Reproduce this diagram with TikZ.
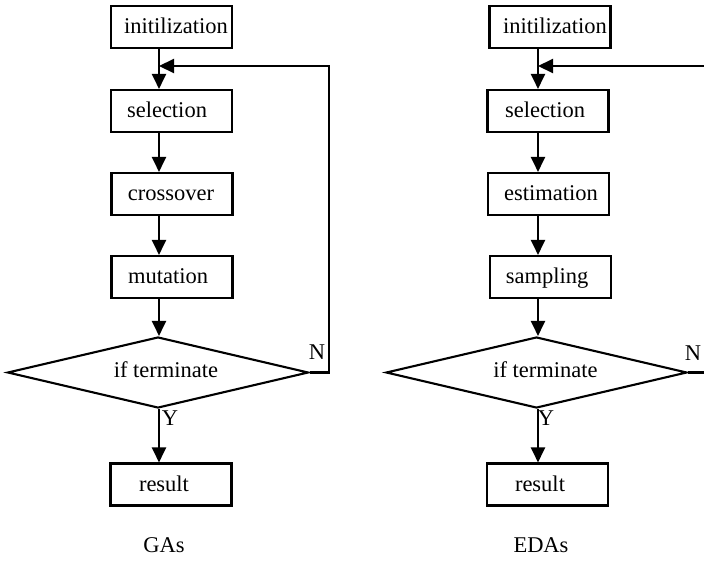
\documentclass[tikz,border=0pt]{standalone}
\usepackage{fontspec}
\setmainfont{Liberation Serif}
\usetikzlibrary{arrows.meta,shapes.geometric}

\tikzset{
  flow/.style={line width=2.1pt},
  arr/.style={flow, -{Triangle[length=15pt,width=14pt]}},
  box/.style={draw, line width=2.1pt, rectangle, minimum width=121pt, minimum height=42pt, inner sep=0pt},
  txt/.style={inner sep=0pt, text height=15.4pt, text depth=4.9pt, font=\fontsize{22.5}{27}\selectfont},
  decision/.style={draw, line width=2.1pt, diamond, minimum width=301pt, minimum height=71pt, inner sep=0pt},
}

% a flowchart step: name, box centre, text shift, text
\newcommand\flowstep[4]{%
  \node[box] (#1) at (#2) {};
  \node[txt] at ([xshift=#3,yshift=-1.5pt]#1.center) {#4};
}

\begin{document}
\begin{tikzpicture}[x=1pt,y=-1pt]
\clip (0,0) rectangle (704,563);
\fill[white] (0,0) rectangle (704,563);

% ---------------- GAs ----------------
\coordinate (gcol) at (159,0);
\flowstep{ginit}{171.5,27}{4.5pt}{initilization}
\flowstep{gsel}{171.5,111}{-4.5pt}{selection}
\flowstep{gcross}{172,194}{-1pt}{crossover}
\flowstep{gmut}{172,277}{-4pt}{mutation}
\node[decision] (gdec) at (158,372.5) {};
\node[txt] at ([xshift=8pt,yshift=0pt]gdec.center) {if terminate};
\flowstep{gres}{171,484.5}{-7pt}{result}

\draw[arr] (ginit.south -| gcol) -- (gsel.north -| gcol);
\draw[arr] (gsel.south -| gcol) -- (gcross.north -| gcol);
\draw[arr] (gcross.south -| gcol) -- (gmut.north -| gcol);
\draw[arr] (gmut.south -| gcol) -- (gdec.north -| gcol);
\draw[arr] (gdec.south -| gcol) -- (gres.north -| gcol);

\coordinate (gjoin) at (159,66);
\coordinate (gturn) at (329,66);
\draw[arr] (gdec.east) -| (gturn) -- (gjoin);

\node[txt] (gN) at (317,354) {N};
\node[txt] (gY) at (170,420) {Y};
\node[txt] (gname) at (164,547) {GAs};

% ---------------- EDAs ----------------
\coordinate (ecol) at (538,0);
\flowstep{einit}{550,27}{5pt}{initilization}
\flowstep{esel}{548,111}{-3pt}{selection}
\flowstep{eest}{548.5,194}{2.5pt}{estimation}
\flowstep{esamp}{550.5,277}{-3.5pt}{sampling}
\node[decision] (edec) at (536.5,372.5) {};
\node[txt] at ([xshift=9pt,yshift=0pt]edec.center) {if terminate};
\flowstep{eres}{547.5,484.5}{-7.5pt}{result}

\draw[arr] (einit.south -| ecol) -- (esel.north -| ecol);
\draw[arr] (esel.south -| ecol) -- (eest.north -| ecol);
\draw[arr] (eest.south -| ecol) -- (esamp.north -| ecol);
\draw[arr] (esamp.south -| ecol) -- (edec.north -| ecol);
\draw[arr] (edec.south -| ecol) -- (eres.north -| ecol);

\coordinate (ejoin) at (538,66);
\coordinate (eturn) at (712,66);
\draw[arr] (edec.east) -| (eturn) -- (ejoin);

\node[txt] (eN) at (693,355) {N};
\node[txt] (eY) at (546,420) {Y};
\node[txt] (ename) at (541,547) {EDAs};
\end{tikzpicture}
\end{document}
